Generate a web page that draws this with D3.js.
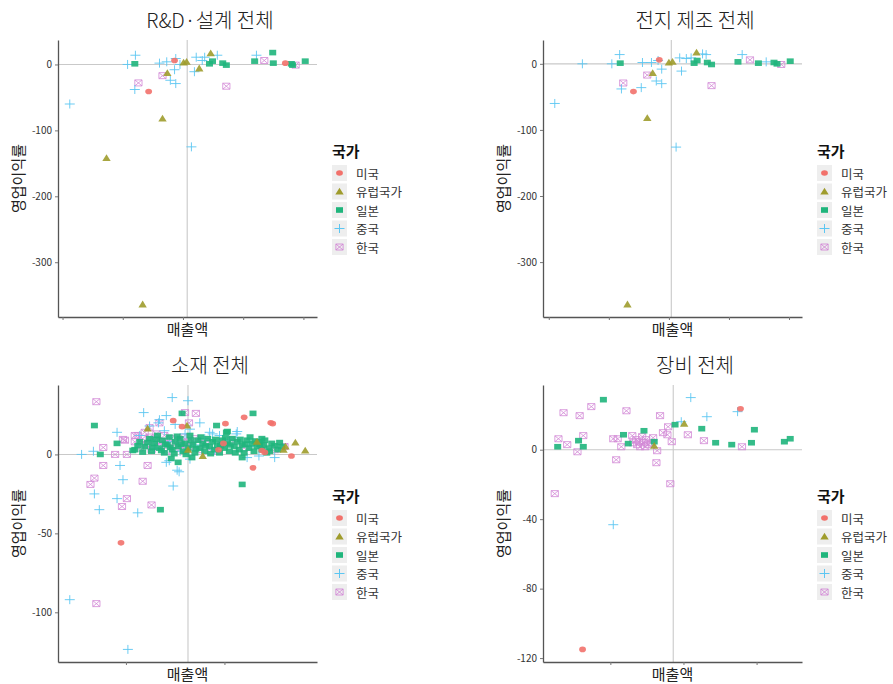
<!DOCTYPE html>
<html>
<head>
<meta charset="utf-8">
<script src="https://cdn.jsdelivr.net/npm/d3@7"></script>
<style>
  body { margin: 0; background: #fff; }
  text { font-family: "Noto Sans CJK KR", "Noto Sans", sans-serif; }
</style>
</head>
<body>
<svg id="chart" width="893" height="684"></svg>
<script>
// legend order and colours (ggplot default hues)
const countries = ["미국", "유럽국가", "일본", "중국", "한국"];
const colors = ["#F2716B", "#9F9C2C", "#1FB57C", "#5CC6F2", "#D38AD6"];

const panelTitles = ["R&D·설계 전체", "전지 제조 전체", "소재 전체", "장비 전체"];
const xTicks = [[1, 2, 3, 4, 5], [1, 2, 3, 4, 5], [2, 3], [1, 2, 3]];
const yTicks = [[0, -100, -200, -300], [0, -100, -200, -300], [0, -50, -100], [0, -40, -80, -120]];
const xRefs = [3.07, 3.04, 2.63, 1.86];

// each panel: [미국, 유럽국가, 일본, 중국, 한국], points as [매출액(axis units), 영업이익률]
const rdData = [
  [[2.86, 6], [2.43, -41], [4.70, 2]],
  [[3.46, 17], [2.74, -13], [3.01, 3], [3.06, 4], [3.27, -6], [2.66, -82], [1.73, -142], [2.33, -364]],
  [[2.20, 1], [3.44, 1], [3.49, 5], [3.66, 2], [3.72, -1], [4.19, 5], [4.49, 18], [4.50, 2], [4.80, 1], [4.82, -1], [5.03, 5]],
  [[2.21, 14], [2.08, 0], [2.20, -38], [1.12, -60], [2.61, 2], [2.73, 4], [2.88, 9], [2.86, -8], [2.79, -24],
   [2.88, -29], [3.14, -125], [3.22, 11], [3.36, 11], [3.19, -11], [3.32, 6], [3.57, 14], [4.22, 14], [2.95, 0]],
  [[2.26, -28], [2.66, -17], [3.72, -33], [4.35, 6], [4.87, -1]]
];

const batteryData = [
  [[2.84, 6], [2.41, -42]],
  [[3.46, 17], [2.73, -14], [3.00, 2], [3.06, 3], [2.64, -82], [2.31, -364]],
  [[2.19, 1], [3.42, 1], [3.47, 5], [3.64, 2], [3.71, -1], [4.15, 3], [4.49, 1], [4.75, 2], [4.80, 0], [5.02, 4]],
  [[2.18, 14], [1.56, 0], [2.05, 0], [2.21, -38], [1.10, -60], [2.54, -36], [2.79, -26], [2.88, -30], [2.88, -8],
   [2.56, 2], [2.71, 2], [2.82, 5], [3.18, 9], [3.29, 8], [3.37, 9], [3.21, -11], [3.56, 15], [3.62, 14],
   [4.22, 14], [4.62, 3], [3.12, -126]],
  [[2.24, -29], [2.64, -17], [3.71, -33], [4.35, 6], [4.87, -1]]
];

const materialData = [
  [[1.95, -56], [3.29, -8.5], [3.68, -1], [3.47, 20], [3.49, 19.5], [3.20, 23.5], [3.01, 19.5], [2.94, 3],
   [2.99, 7], [3.41, 1.3], [2.48, 21.4], [2.57, 17.6], [3.38, 2.5]],
  [[2.22, 16.4], [2.62, 18.3], [3.82, 2.5], [3.72, 7.5], [3.62, 5], [3.60, 3], [2.78, -1], [3.33, 8], [2.63, 3]],
  [[1.68, 18.3], [1.74, 0], [2.35, -35], [3.18, -19], [3.29, 26], [2.92, 18.3], [3.03, 14.5], [3.38, 10],
   [3.18, -2], [2.67, -2], [2.57, 26], [1.91, 7], [2.07, 2.5], [2.46, -2.5], [2.53, -5], [3.02, 14],
   [2.09, 3], [2.14, 8], [2.19, 5], [2.24, 10], [2.26, 2], [2.29, 7], [2.32, 12], [2.34, 4], [2.37, 9],
   [2.39, 1], [2.42, 6], [2.44, 11], [2.47, 3], [2.50, 8], [2.53, 5], [2.55, 10], [2.58, 2], [2.60, 7],
   [2.63, 4], [2.65, 12], [2.68, 6], [2.70, 1], [2.73, 9], [2.75, 4], [2.78, 7], [2.80, 2], [2.83, 10],
   [2.85, 5], [2.88, 8], [2.90, 3], [2.93, 6], [2.95, 1], [2.98, 9], [3.00, 4], [3.03, 7], [3.05, 2],
   [3.08, 10], [3.10, 5], [3.13, 8], [3.15, 3], [3.18, 6], [3.20, 1], [3.23, 9], [3.25, 4], [3.28, 7],
   [3.30, 2], [3.33, 5], [3.35, 8], [3.38, 3], [3.40, 6], [3.43, 1], [3.45, 4], [3.48, 7], [3.54, 3], [3.58, 5],
   [2.12, 5.5], [2.17, 1.5], [2.22, 7.5], [2.27, 4.5], [2.31, 9.5], [2.36, 2.5], [2.40, 6.5], [2.45, 4.5],
   [2.49, 0.5], [2.52, 11.5], [2.56, 6.5], [2.61, 0], [2.66, 9], [2.71, 3.5], [2.76, 11], [2.81, 5.5],
   [2.86, 0.5], [2.91, 9.5], [2.96, 5.5], [3.01, 10.5], [3.06, 6], [3.11, 1], [3.16, 9.5], [3.21, 6.5],
   [3.26, 11], [3.31, 8.5], [3.36, 6.5], [3.41, 9], [3.46, 2], [3.51, 5.5], [3.56, 7.5]],
  [[1.55, 0], [1.67, 2], [1.68, -25], [1.73, -35], [1.43, -92], [2.02, -123.5], [1.91, -28], [1.97, -16],
   [1.94, -7], [2.12, -37], [2.48, -20], [2.54, -11], [2.47, 36], [2.63, 34], [2.18, 26.5], [2.41, 24.6],
   [2.33, 20], [1.91, 14], [2.41, -5], [3.13, 14.5], [2.88, 13], [3.12, 13], [3.23, -2], [2.52, -10], [2.44, -4],
   [2.14, 12], [2.24, 18], [2.29, 4], [2.34, 22], [2.39, 15], [2.44, 8], [2.50, 19], [2.55, 2], [2.60, 13],
   [2.65, 16], [2.70, 6], [2.75, 20], [2.80, 10], [2.85, 14], [2.90, 3], [2.95, 12], [3.05, 9], [3.25, 5],
   [3.35, -1], [3.51, -2], [2.65, -3]],
  [[1.70, 33.4], [1.77, 4.4], [1.77, -7], [1.68, -15], [1.64, -19], [1.70, -94.5], [1.96, -33], [2.01, -28],
   [2.17, -17], [2.26, -32], [2.22, -7], [2.60, 26.5], [2.71, 26], [2.64, 20], [1.97, 9.5], [1.89, 0],
   [2.01, 0], [2.24, 17], [2.34, 20], [2.09, 12], [1.99, 9],
   [2.09, 8], [2.12, 12], [2.14, 4], [2.17, 10], [2.19, 14], [2.21, 6], [2.24, 11], [2.26, 3], [2.29, 9],
   [2.31, 13], [2.34, 5], [2.36, 8], [2.39, 12], [2.41, 2], [2.44, 7], [2.46, 10], [2.50, 4], [2.53, 9],
   [2.55, 6], [2.58, 11], [2.60, 3], [2.63, 8], [2.65, 5], [2.70, 10], [2.75, 3], [2.80, 7], [2.87, 2],
   [2.97, 6], [3.07, 9], [3.20, 4], [3.37, 6], [3.51, 3], [3.61, 5]]
];

const equipmentData = [
  [[2.78, 23.6], [0.62, -115]],
  [[2.01, 15], [1.60, 2.3]],
  [[0.905, 28.8], [0.28, 1.7], [0.565, 5.2], [0.63, 1.7], [1.18, 8.6], [1.46, 10.9], [1.245, 3.5], [1.60, 4.6],
   [1.885, 14.4], [2.25, 12.1], [2.44, 4], [2.66, 2.9], [2.93, 4], [2.97, 11.5], [3.38, 4.6], [3.46, 6.3]],
  [[2.10, 30], [2.32, 19], [2.74, 21.9], [1.97, 16.1], [1.04, -43.2]],
  [[0.36, 21.3], [0.58, 19.6], [0.74, 24.8], [0.29, 6.3], [0.41, 2.9], [0.55, -1.2], [0.63, 8.1], [0.24, -25.3],
   [1.22, 22.4], [1.68, 19.6], [1.08, -5.8], [1.63, -7.5], [1.82, -19.6], [1.84, 4.6], [2.06, 8.6], [2.28, 5.2],
   [2.80, 1.7], [1.30, 8.1], [1.10, 6.3], [1.04, 6.3], [1.15, 1.7], [1.64, -0.6], [1.72, 9.8], [1.78, 8.6],
   [1.79, 13.2], [1.313, 4.0], [1.367, 2.9], [1.395, 4.6], [1.435, 7.5], [1.449, 4.0], [1.49, 5.8],
   [1.517, 2.9], [1.558, 4.0], [1.585, 6.9], [1.408, 1.7], [1.354, 5.8], [1.476, 1.7]]
];

const allData = [rdData, batteryData, materialData, equipmentData];

const svg = d3.select("#chart");
const pw = 259, ph = 277;
const origins = [[58, 40], [543, 40], [58, 385], [543, 385]];
const drawOrder = [4, 3, 2, 1, 0];

function addMark(sel, k) {
  const c = colors[k];
  if (k === 0) {
    sel.append("ellipse").attr("rx", 3.4).attr("ry", 2.8).attr("fill", c);
  } else if (k === 1) {
    sel.append("path").attr("d", "M0,-3.8L4.2,3L-4.2,3Z").attr("fill", c);
  } else if (k === 2) {
    sel.append("rect").attr("x", -3.5).attr("y", -2.8).attr("width", 7).attr("height", 5.6).attr("fill", c);
  } else if (k === 3) {
    sel.append("path").attr("d", "M-5,0H5M0,-4.5V4.5")
      .attr("stroke", c).attr("stroke-width", 1).attr("fill", "none");
  } else {
    sel.append("path").attr("d", "M-3.6,-3H3.6V3H-3.6ZM-3.6,-3L3.6,3M3.6,-3L-3.6,3")
      .attr("stroke", c).attr("stroke-width", 0.9).attr("fill", "none");
  }
}

function expand(ext) {
  const pad = (ext[1] - ext[0]) * 0.05;
  return [ext[0] - pad, ext[1] + pad];
}

allData.forEach((data, i) => {
  const [ox, oy] = origins[i];
  const pts = [];
  drawOrder.forEach(k => data[k].forEach(d => pts.push({k: k, x: d[0], y: d[1]})));

  const x = d3.scaleLinear().domain(expand(d3.extent(pts, d => d.x))).range([0, pw]);
  const y = d3.scaleLinear().domain(expand(d3.extent(pts, d => d.y))).range([ph, 0]);

  const g = svg.append("g").attr("transform", `translate(${ox},${oy})`);

  // reference lines
  g.append("line").attr("x1", 0).attr("x2", pw).attr("y1", y(0)).attr("y2", y(0))
    .attr("stroke", "#c9c9c9").attr("stroke-width", 1.1);
  g.append("line").attr("x1", x(xRefs[i])).attr("x2", x(xRefs[i])).attr("y1", 0).attr("y2", ph)
    .attr("stroke", "#c9c9c9").attr("stroke-width", 1.1);

  // axes
  const xAxis = g.append("g").attr("transform", `translate(0,${ph})`)
    .call(d3.axisBottom(x).tickValues(xTicks[i]).tickFormat("").tickSize(3).tickSizeOuter(0));
  const yAxis = g.append("g")
    .call(d3.axisLeft(y).tickValues(yTicks[i]).tickFormat(d => String(d)).tickSize(3).tickSizeOuter(0));
  [xAxis, yAxis].forEach(a => {
    a.select(".domain").attr("stroke", "#555").attr("stroke-width", 1.3);
    a.selectAll(".tick line").attr("stroke", "#777");
  });
  yAxis.selectAll(".tick text")
    .attr("font-family", "'Liberation Sans', Arial, sans-serif")
    .attr("font-size", 10).attr("fill", "#333");

  // points
  g.selectAll(".pt").data(pts).enter().append("g")
    .attr("class", "pt")
    .attr("opacity", 0.9)
    .attr("transform", d => `translate(${x(d.x)},${y(d.y)})`)
    .each(function(d) { addMark(d3.select(this), d.k); });

  // titles and labels
  g.append("text").attr("x", 152).attr("y", -12).attr("text-anchor", "middle")
    .attr("font-size", 20).attr("font-weight", 300).attr("fill", "#222").text(panelTitles[i]);
  g.append("text").attr("x", pw / 2).attr("y", ph + 18).attr("text-anchor", "middle")
    .attr("font-size", 15).attr("fill", "#222").text("매출액");
  g.append("text").attr("transform", `translate(-41,${ph / 2}) rotate(-90)`)
    .attr("text-anchor", "middle").attr("dominant-baseline", "central")
    .attr("font-size", 15).attr("fill", "#222").text("영업이익률");

  // legend
  const lg = g.append("g").attr("transform", `translate(274,${117})`);
  lg.append("text").attr("x", 0).attr("y", 0).attr("font-size", 15).attr("font-weight", "bold")
    .attr("fill", "#111").text("국가");
  countries.forEach((name, k) => {
    const row = lg.append("g").attr("transform", `translate(0,${16 + k * 18.5})`);
    row.append("rect").attr("x", 0).attr("y", -8).attr("width", 15).attr("height", 16).attr("fill", "#eeeeee");
    const m = row.append("g").attr("transform", "translate(7.5,0)");
    addMark(m, k);
    row.append("text").attr("x", 24).attr("y", 0).attr("dominant-baseline", "central")
      .attr("font-size", 12.5).attr("fill", "#333").text(name);
  });
});
</script>
</body>
</html>
